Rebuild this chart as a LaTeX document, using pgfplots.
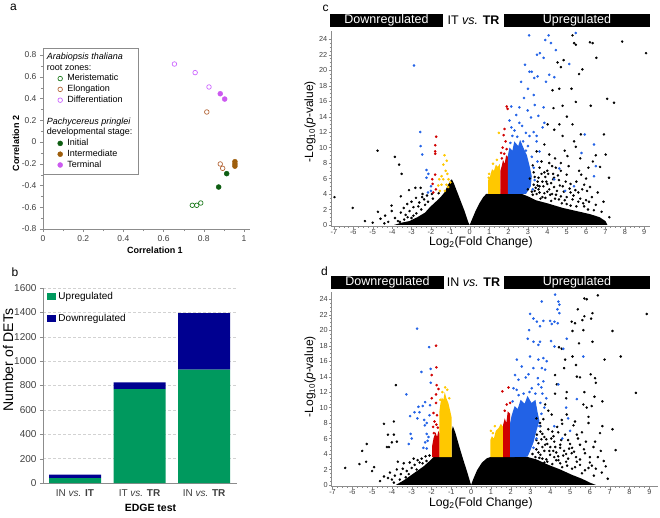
\documentclass[border=0pt]{standalone}
\usepackage{fontspec}
\setmainfont{Liberation Sans}
\usepackage{pgfplots}
\pgfplotsset{compat=1.18}

\definecolor{axgray}{HTML}{8C8C8C}
\definecolor{tickgray}{HTML}{404040}
\definecolor{mgreen}{HTML}{1E7B1E}
\definecolor{igreen}{HTML}{0E5E12}
\definecolor{ebrown}{HTML}{B5683A}
\definecolor{ibrown}{HTML}{9E5E0C}
\definecolor{dviolet}{HTML}{CC66FF}
\definecolor{tviolet}{HTML}{CC5AF0}
\definecolor{upgreen}{HTML}{00995E}
\definecolor{downblue}{HTML}{000090}
\definecolor{vblue}{HTML}{2262E6}
\definecolor{vred}{HTML}{D00000}
\definecolor{vyellow}{HTML}{FFC800}

\pgfplotsset{
  every axis/.append style={
    /pgf/number format/assume math mode=true,
    /pgf/number format/1000 sep={},
    scale only axis, anchor=south west,
    axis lines=left, axis line style={-, axgray},
    tick align=outside, tick style={axgray},
  },
  volcano/.style={
    width=318.7pt, height=195pt,
    ymin=-0.2, ymax=25,
    xtick={-7,-6,...,9}, ytick={0,2,...,24},
    minor x tick num=3, minor y tick num=3,
    major tick length=2.5pt, minor tick length=1.5pt,
    tick label style={font=\fontsize{7.3}{8}\selectfont, text=tickgray, inner sep=1pt},
    xticklabel style={yshift=0.8pt},
  },
  blk/.style={only marks, mark=*, mark size=1.05pt, black},
  dots/.style={only marks, mark=*, mark size=1.1pt, #1, mark options={draw=#1, fill=#1}},
}

\begin{document}
\begin{tikzpicture}
\path[use as bounding box] (0pt,0pt) rectangle (660pt,517pt);

% ---------------- panel a ----------------
\begin{axis}[
  at={(43pt,288pt)}, width=207pt, height=174pt,
  xmin=0, xmax=1.03, ymin=-0.8, ymax=0.8,
  xtick={0,0.2,0.4,0.6,0.8,1},
  ytick={-0.8,-0.6,-0.4,-0.2,0,0.2,0.4,0.6,0.8},
  minor tick num=1,
  major tick length=3pt, minor tick length=2pt,
  tick label style={font=\fontsize{8.5}{10}\selectfont, text=tickgray},
  legend style={at={(axis description cs:0,1.040)}, anchor=north west,
    draw=axgray, fill=white, font=\fontsize{9}{10}\selectfont,
    inner xsep=5pt, inner ysep=3.5pt, row sep=0.3pt, column sep=2.5pt,
    nodes={inner sep=0.6pt, text height=7pt, text depth=2.3pt},
    cells={anchor=west}},
  legend image code/.code={\path[draw=none, fill=none] (0pt,-2pt) rectangle (16pt,2pt);
    \draw[#1] plot coordinates {(12pt,0pt)};},
]
\addplot[only marks, mark=o, mark size=2.3pt, draw=mgreen, line width=0.7pt, forget plot]
  coordinates {(0.743,-0.582) (0.765,-0.582) (0.785,-0.561)};
\addplot[only marks, mark=o, mark size=2.3pt, draw=ebrown, line width=0.7pt, forget plot]
  coordinates {(0.815,0.276) (0.882,-0.202) (0.894,-0.242)};
\addplot[only marks, mark=o, mark size=2.3pt, draw=dviolet, line width=0.7pt, forget plot]
  coordinates {(0.654,0.717) (0.757,0.638) (0.826,0.506)};
\addplot[only marks, mark=*, mark size=2.5pt, draw=igreen, fill=igreen, forget plot]
  coordinates {(0.914,-0.291) (0.874,-0.414)};
\addplot[only marks, mark=*, mark size=2.5pt, draw=ibrown, fill=ibrown, forget plot]
  coordinates {(0.955,-0.181) (0.955,-0.202) (0.955,-0.222)};
\addplot[only marks, mark=*, mark size=2.5pt, draw=tviolet, fill=tviolet, forget plot]
  coordinates {(0.882,0.444) (0.904,0.395)};

\addlegendimage{empty legend}\addlegendentry{\hspace*{-20.5pt}\textit{Arabiopsis thaliana}}
\addlegendimage{empty legend}\addlegendentry{\hspace*{-20.5pt}root zones:}
\addlegendimage{only marks, mark=o, mark size=2.3pt, draw=mgreen, line width=0.7pt}\addlegendentry{Meristematic}
\addlegendimage{only marks, mark=o, mark size=2.3pt, draw=ebrown, line width=0.7pt}\addlegendentry{Elongation}
\addlegendimage{only marks, mark=o, mark size=2.3pt, draw=dviolet, line width=0.7pt}\addlegendentry{Differentiation}
\addlegendimage{empty legend}\addlegendentry{\mbox{}}
\addlegendimage{empty legend}\addlegendentry{\hspace*{-20.5pt}\textit{Pachycereus pringlei}}
\addlegendimage{empty legend}\addlegendentry{\hspace*{-20.5pt}developmental stage:}
\addlegendimage{only marks, mark=*, mark size=2.5pt, draw=igreen, fill=igreen}\addlegendentry{Initial}
\addlegendimage{only marks, mark=*, mark size=2.5pt, draw=ibrown, fill=ibrown}\addlegendentry{Intermediate}
\addlegendimage{only marks, mark=*, mark size=2.5pt, draw=tviolet, fill=tviolet}\addlegendentry{Terminal}
\end{axis}

% ---------------- panel b ----------------
\begin{axis}[
  at={(43pt,34pt)}, width=194pt, height=195pt,
  xmin=-0.496, xmax=2.51, ymin=0, ymax=1600,
  ybar stacked, bar width=52pt,
  xtick={0,1,2},
  xticklabels={IN \textit{vs.} \textbf{IT}, IT \textit{vs.} \textbf{TR}, IN \textit{vs.} \textbf{TR}},
  x tick style={draw=none},
  ytick={0,200,...,1600},
  major tick length=3pt,
  ymajorgrids, major grid style={densely dashed, gray!35},
  tick label style={font=\fontsize{10}{12}\selectfont, text=tickgray},
  legend style={at={(axis description cs:0.005,1.0)}, anchor=north west,
    draw=none, fill=none, font=\fontsize{10}{12}\selectfont, row sep=9pt,
    cells={anchor=west}},
  legend image code/.code={\fill[#1] (0pt,-3.4pt) rectangle (9.3pt,3.4pt);},
]
\addplot[fill=upgreen, draw=none] coordinates {(0,40) (1,770) (2,930)};
\addplot[fill=downblue, draw=none] coordinates {(0,28) (1,55) (2,463)};
\legend{Upregulated, Downregulated}
\end{axis}

% ---------------- panel c ----------------
\begin{axis}[volcano, at={(331pt,290.5pt)}, xmin=-7.15, xmax=9.28]
\addplot[fill=black, draw=none] coordinates {
  (-3.9,0) (-3.5,0.3) (-3.1,0.5) (-2.7,1.0) (-2.3,1.6) (-2.05,2.3) (-1.75,3.0)
  (-1.5,3.6) (-1.3,4.2) (-1.15,5.0) (-1.0,5.7) (-0.92,5.9) (-0.82,5.4) (-0.65,4.3)
  (-0.45,3.0) (-0.25,1.7) (-0.08,0.4) (0,0)} -- cycle;
\addplot[fill=black, draw=none] coordinates {
  (0,0) (0.1,0.6) (0.3,1.8) (0.5,2.8) (0.7,3.6) (0.85,4.0) (2.7,4.0) (3.0,3.7)
  (3.4,3.2) (4.0,2.8) (4.8,2.2) (5.5,1.8) (6.2,1.4) (6.7,1.0) (7.0,0.5) (7.1,0)} -- cycle;
\addplot[blk] coordinates {
  (-6.97,3.6) (-6.03,2.2) (-4.75,9.6) (-3.86,8.8) (-3.64,7.8) (-3.51,6.6) (-3.13,4.5)
  (-2.8,4.8) (-2.53,4.8) (-3.55,3.7) (-4.03,2.5) (-4.73,1.7) (-4.36,1.2) (-4.02,1.8)
  (-3.85,0.9) (-3.55,1.6) (-3.22,2.7) (-3.0,3.0) (-2.77,3.5) (-2.43,4.0) (-3.7,0.5)
  (-3.38,0.7) (-4.6,0.8) (-4.2,0.4) (-3.3,1.3) (-2.9,2.3) (-2.6,2.9) (-2.35,3.3)
  (-2.2,3.8) (-5.0,0.3) (-3.1,1.8) (-2.5,2.0) (-2.75,1.5) (-3.4,2.2) (-2.3,2.6)
  (-1.9,3.4) (-1.6,4.1) (-4.4,0.2) (-5.4,0.5) (-3.0,0.9) (-2.65,2.4) (-2.15,3.0)
  (-2.45,3.6) (-1.95,4.0) (-3.2,1.0) (-2.9,1.2) (-3.6,0.4)
  (5.3,24.5) (5.38,23.5) (5.47,23.3) (6.2,23.6) (6.34,23.5) (7.86,23.7) (9.09,22.2)
  (6.53,21.6) (4.53,21.0) (4.84,21.3) (4.7,20.4) (5.81,20.1) (5.64,19.5) (5.25,17.6)
  (4.62,17.6) (4.27,17.4) (7.09,16.3) (7.44,15.8) (6.24,15.4) (5.47,15.9) (4.79,15.4)
  (4.32,15.1) (5.01,14.0) (4.62,13.0) (5.3,13.0) (4.02,13.0) (4.36,12.3) (6.92,11.7)
  (4.79,11.5) (5.73,11.7) (5.38,10.8) (5.47,10.1) (7.01,9.1) (5.04,8.9) (6.12,7.4)
  (6.72,7.5) (7.18,6.1) (5.64,7.0) (4.7,8.0) (4.44,7.4) (4.1,9.1) (3.85,10.4) (6.15,3.0)
  (3.2,4.3) (3.4,4.8) (3.6,4.2) (3.5,5.6) (3.8,5.0) (3.9,6.2) (4.1,4.6) (4.2,5.4)
  (4.0,7.0) (4.3,6.6) (4.5,4.4) (4.6,5.8) (4.8,5.0) (3.3,6.8) (3.6,7.4) (3.7,8.2)
  (4.4,8.6) (3.45,9.5) (5.0,6.5) (5.2,4.2) (5.5,5.6) (5.8,4.6) (6.0,6.0) (5.3,3.3)
  (6.0,3.2) (6.5,2.6) (4.9,3.2) (3.9,3.5) (4.4,3.4) (3.1,6.0) (3.7,6.6) (4.1,8.0)
  (4.7,7.0) (5.9,2.4) (6.3,3.6) (6.6,4.2) (5.6,3.0) (6.5,9.0) (5.9,5.2) (4.9,9.6)
  (3.3,5.2) (3.0,4.6) (3.45,4.0) (3.75,3.6) (4.15,3.9) (4.6,3.3) (5.0,2.7) (5.5,2.4)
  (6.1,2.0) (6.8,1.7) (7.2,1.0) (3.95,5.6) (4.35,4.9) (4.85,4.3) (5.2,5.3) (3.6,5.0)
  (4.05,6.6) (5.45,4.5) (6.2,4.9) (6.9,3.0) (4.55,6.4) (3.25,7.7) (4.25,7.6) (5.1,7.6)
  (5.75,6.5) (6.35,8.2) (5.7,8.6) (3.35,4.4) (3.55,4.6) (3.85,4.1) (4.0,4.3) (4.25,4.0)
  (4.45,3.9) (4.7,3.7) (5.0,3.6) (5.35,3.8) (5.7,3.4) (3.25,3.9) (3.65,3.4) (4.2,3.1)
  (4.75,2.8) (5.2,2.5) (5.85,2.8) (6.4,1.9) (3.5,5.1) (3.75,5.6) (4.0,5.3) (4.3,5.9)
  (4.65,5.1) (3.35,6.2) (3.85,6.8) (4.35,6.1) (4.95,5.6) (5.15,4.7) (5.6,4.2)
  (6.05,4.4) (3.55,6.1)};
\addplot[fill=vyellow, draw=none] coordinates {
  (0.95,4.0) (0.95,5.8) (1.05,6.3) (1.15,7.2) (1.25,7.0) (1.35,7.8) (1.45,7.5)
  (1.55,7.9) (1.58,4.0)} -- cycle;
\addplot[fill=vred, draw=none] coordinates {
  (1.58,4.0) (1.58,7.0) (1.65,7.6) (1.72,8.4) (1.8,7.9) (1.88,9.0) (1.97,8.8) (1.97,4.0)} -- cycle;
\addplot[fill=vblue, draw=none] coordinates {
  (1.97,4.0) (1.97,9.0) (2.05,10.0) (2.2,9.6) (2.3,10.8) (2.5,10.2) (2.6,11.0)
  (2.8,9.8) (2.95,9.0) (3.1,7.5) (3.2,6.3) (3.15,5.0) (2.9,4.0)} -- cycle;
\addplot[dots=vyellow] coordinates {
  (-1.30,9.0) (-1.18,8.3) (-1.36,7.8) (-1.24,7.0) (-1.57,5.9) (-1.36,5.9) (-1.09,5.9)
  (-1.45,5.2) (-1.2,5.2) (-1.28,4.4) (-1.11,4.9) (-1.54,4.4) (-1.62,5.1) (-1.45,6.3)
  (-1.15,6.6) (-1.0,5.5) (1.5,11.9) (1.0,6.6) (1.4,8.4) (1.2,7.9) (0.98,6.1)};
\addplot[dots=vred] coordinates {
  (-1.73,11.4) (-1.78,10.3) (-1.78,9.5) (-1.78,9.2) (-1.78,6.5) (-1.93,5.9) (-1.91,5.3)
  (-1.74,4.6) (-1.88,4.2) (1.91,15.3) (1.95,15.0) (1.8,12.4) (1.75,11.6) (1.85,10.8)
  (1.7,10.0) (1.62,9.3) (1.9,9.8) (1.66,8.6) (1.78,9.2)};
\addplot[dots=vblue] coordinates {
  (-2.87,20.6) (-2.55,12.0) (-2.53,10.2) (-2.45,9.1) (-2.23,7.1) (-2.13,6.6) (-2.23,6.1)
  (-2.0,5.0) (-2.15,4.2) (-2.0,4.4)
  (3.06,24.5) (3.9,23.9) (4.07,24.5) (4.19,23.5) (5.47,24.8) (4.44,22.6) (3.62,22.2)
  (3.47,22.0) (3.81,21.6) (5.13,20.8) (2.85,20.7) (3.08,19.8) (2.65,18.5) (3.33,19.0)
  (3.93,18.5) (4.36,19.1) (2.56,15.2) (2.14,15.3) (2.99,14.8) (3.81,15.2) (3.54,14.1)
  (3.16,13.9) (2.56,13.2) (2.31,12.2) (3.85,13.2) (3.76,12.6) (2.9,11.9) (3.08,11.5)
  (3.5,19.2) (3.2,19.8) (4.1,19.4) (6.41,10.4) (5.93,11.7) (5.76,9.3) (6.5,7.6)
  (6.41,6.3) (4.92,4.4) (5.38,5.0) (4.36,5.9) (4.62,7.3) (2.7,12.8) (3.3,12.0)
  (3.45,10.8) (2.2,11.5) (3.6,9.5) (3.5,8.2) (3.45,11.5) (2.05,13.5) (2.8,16.4)
  (3.3,16.8) (2.4,14.2) (3.35,15.5) (3.0,17.6) (2.1,10.6) (2.45,11.4) (2.75,10.8)
  (3.0,10.2) (3.2,8.8) (3.3,7.4) (3.35,5.8) (3.25,4.6) (2.9,9.6) (2.15,12.6)};
\end{axis}

% ---------------- panel d ----------------
\begin{axis}[volcano, at={(331.5pt,30.5pt)}, width=326.7pt, xmin=-7.05, xmax=9.45]
\addplot[fill=black, draw=none] coordinates {
  (-3.8,0) (-3.4,0.6) (-2.9,1.5) (-2.4,2.4) (-2.05,3.2) (-1.9,3.6) (-0.98,3.6)
  (-0.98,7.0) (-0.92,7.6) (-0.8,6.8) (-0.6,5.0) (-0.4,3.3) (-0.2,1.7) (-0.05,0.4) (0,0)} -- cycle;
\addplot[fill=black, draw=none] coordinates {
  (0,0) (0.1,0.7) (0.3,1.9) (0.55,2.9) (0.8,3.45) (0.97,3.6) (2.8,3.65) (3.3,3.3)
  (3.9,2.6) (4.5,2.0) (5.1,1.3) (5.6,0.8) (6.0,0.3) (6.3,0)} -- cycle;
\addplot[blk] coordinates {
  (-6.36,2.2) (-5.64,2.7) (-5.5,4.4) (-5.27,5.3) (-5.3,3.0) (-5.0,1.8) (-4.9,2.3)
  (-4.4,7.9) (-4.2,6.5) (-4.25,4.9) (-4.15,4.9) (-4.0,5.5) (-3.9,8.2) (-3.9,6.5)
  (-3.8,12.9) (-3.75,5.6) (-3.7,3.0) (-4.2,0.9) (-4.4,1.1) (-4.0,0.7) (-3.4,2.8)
  (-3.25,1.8) (-3.1,2.9) (-2.85,2.6) (-2.7,3.2) (-3.55,1.4) (-3.75,2.0) (-2.5,3.4)
  (-2.3,3.7) (-4.6,0.5) (-3.9,0.3) (-3.3,1.0) (-3.0,2.2) (-2.6,2.9) (-2.25,3.1)
  (-3.6,0.7) (-4.1,1.6) (-2.1,3.8) (-2.9,3.4) (-3.15,1.4) (-2.75,2.0) (-3.45,2.1)
  (-2.45,2.8) (-3.85,1.2)
  (6.4,24.5) (5.72,24.1) (5.84,24.0) (5.39,22.7) (6.13,22.2) (8.87,22.1) (6.06,21.5)
  (5.62,21.3) (5.72,21.8) (5.08,21.1) (5.25,20.9) (5.12,19.9) (5.67,20.0) (7.14,19.9)
  (6.13,18.5) (5.45,18.3) (4.44,17.8) (4.58,17.6) (5.12,16.6) (5.3,15.5) (4.75,16.2)
  (7.56,16.6) (6.74,16.2) (5.34,14.0) (5.5,13.9) (6.04,14.3) (6.26,13.8) (6.3,13.2)
  (8.32,11.9) (5.72,12.0) (6.23,11.4) (6.63,10.8) (6.09,10.2) (5.84,10.0) (5.67,10.4)
  (4.7,15.1) (4.24,14.2) (4.33,13.0) (4.83,12.0) (4.8,11.2) (4.24,11.8) (5.25,8.2)
  (5.93,8.0) (5.17,7.7) (6.63,7.6) (7.14,7.2) (6.51,6.7) (6.26,5.6) (6.18,4.9)
  (5.93,8.8) (4.83,9.1) (4.58,8.4) (4.07,9.1) (3.74,10.4) (3.48,8.0) (4.16,6.3)
  (4.75,6.5) (5.34,6.5) (5.5,5.2) (5.08,4.1) (5.75,4.1) (4.5,4.8) (3.74,5.2) (3.32,6.5)
  (3.99,3.9) (4.41,3.2) (5.34,3.0) (5.93,2.2)
  (3.1,4.0) (3.3,4.6) (3.5,3.9) (3.4,5.4) (3.7,4.4) (3.8,5.9) (4.0,4.9) (4.2,5.6)
  (3.6,6.6) (3.9,7.2) (4.3,4.2) (4.5,5.2) (4.7,4.4) (4.4,6.8) (4.9,5.8) (5.1,4.8)
  (3.5,7.6) (4.6,7.9) (5.4,6.0) (5.7,4.6) (4.9,3.4) (4.3,3.2) (5.5,2.6) (6.0,2.9)
  (3.3,8.6) (3.9,9.6) (4.8,3.0) (5.8,5.6) (6.4,3.6) (6.8,2.4) (3.8,3.3) (6.6,1.6)
  (6.9,0.8) (7.3,4.5) (3.45,3.5) (3.7,2.9) (4.1,2.7) (4.6,2.3) (5.1,2.1) (5.6,1.5)
  (6.2,1.2) (3.95,4.4) (4.25,4.9) (4.65,3.8) (5.3,3.6) (3.55,5.9) (4.05,6.0) (5.0,5.3)
  (6.0,3.6) (6.55,4.4) (3.65,8.5) (4.35,7.5) (5.6,6.8) (3.25,3.6) (3.6,3.4) (3.85,3.0)
  (4.2,3.6) (4.5,2.8) (4.85,2.5) (5.25,2.3) (5.75,1.9) (6.3,2.1) (3.4,4.2) (3.6,4.9)
  (3.85,5.3) (4.15,4.4) (4.4,3.7) (4.8,4.0) (5.2,4.3) (3.3,5.8) (3.7,6.2) (4.1,6.9)
  (4.55,5.8) (4.95,4.7) (5.5,3.3) (6.1,2.5) (6.7,3.1) (3.5,6.9)};
\addplot[fill=vyellow, draw=none] coordinates {
  (-1.6,3.6) (-1.6,9.5) (-1.55,10.5) (-1.48,11.3) (-1.4,11.0) (-1.33,12.0) (-1.25,11.2)
  (-1.15,10.6) (-1.05,9.5) (-0.98,8.7) (-0.98,3.6)} -- cycle;
\addplot[fill=vred, draw=none] coordinates {
  (-1.97,3.6) (-1.97,5.0) (-1.9,6.0) (-1.8,6.8) (-1.72,6.2) (-1.65,7.0) (-1.6,6.6)
  (-1.6,3.6)} -- cycle;
\addplot[fill=vyellow, draw=none] coordinates {
  (0.97,3.6) (0.97,5.8) (1.05,6.3) (1.15,6.0) (1.25,7.0) (1.4,7.4) (1.5,7.9) (1.62,7.5)
  (1.62,3.6)} -- cycle;
\addplot[fill=vred, draw=none] coordinates {
  (1.62,3.6) (1.62,7.8) (1.7,8.6) (1.78,8.0) (1.85,9.5) (1.97,9.2) (1.97,3.6)} -- cycle;
\addplot[fill=vblue, draw=none] coordinates {
  (1.97,3.6) (1.97,8.0) (2.05,9.0) (2.2,10.2) (2.35,9.8) (2.5,11.0) (2.7,10.5)
  (2.85,11.5) (3.05,10.6) (3.25,11.0) (3.35,9.5) (3.45,8.3) (3.3,7.0) (3.15,5.5)
  (3.0,4.5) (2.85,3.65)} -- cycle;
\addplot[dots=vyellow] coordinates {(-1.31,12.6) (-1.45,12.0) (-1.2,12.3) (-1.1,11.2)
  (-1.55,11.0) (1.0,7.0) (1.2,7.6) (1.1,6.7)};
\addplot[dots=vred] coordinates {
  (-1.77,18.0) (-1.75,15.2) (-1.99,14.2) (-1.74,12.9) (-1.65,12.4) (-1.77,11.7)
  (-1.99,11.2) (-1.77,10.6) (-1.9,9.3) (-1.72,9.0) (-1.85,8.2) (-1.75,7.8) (-1.92,7.5)
  (-1.68,7.4) (-1.88,6.7) (1.58,12.1) (1.89,12.6) (1.97,10.6) (1.8,10.4) (1.7,9.6)};
\addplot[dots=vblue] coordinates {
  (-2.73,20.2) (-2.12,17.8) (-2.04,15.0) (-2.51,14.6) (-2.04,13.2) (-3.27,11.7)
  (-2.32,10.7) (-2.07,10.3) (-2.44,10.2) (-2.66,10.1) (-2.86,9.4) (-3.08,8.9)
  (-2.71,8.6) (-2.37,8.4) (-2.24,8.0) (-2.34,7.7) (-3.05,6.6) (-2.24,6.6) (-2.15,6.2)
  (-3.15,5.3) (-2.32,5.5) (-2.41,4.8) (-2.24,4.7) (-3.0,6.0) (-2.61,9.4) (-2.1,9.0)
  (-2.2,5.7)
  (4.24,24.6) (3.57,23.7) (4.41,23.7) (4.46,23.3) (4.36,22.7) (4.46,22.2) (2.98,22.1)
  (3.15,21.5) (3.32,21.1) (3.65,21.2) (3.99,21.2) (4.21,21.1) (4.38,20.9) (3.48,20.5)
  (2.93,20.0) (4.07,20.8) (2.86,18.9) (3.15,18.5) (3.4,18.1) (3.48,18.5) (4.04,18.6)
  (4.83,18.9) (4.21,17.9) (4.66,17.6) (2.31,16.2) (2.98,16.6) (3.4,16.2) (3.65,16.4)
  (3.82,16.0) (5.67,16.6) (3.15,15.1) (3.57,15.1) (3.74,14.9) (2.56,15.3) (2.22,14.2)
  (2.39,13.6) (2.76,13.9) (2.9,14.3) (3.37,13.8) (3.65,13.4) (3.4,13.0) (2.14,12.5)
  (3.06,12.5) (4.41,13.0) (5.34,11.1) (4.8,10.0) (4.6,6.0) (4.2,7.6) (4.9,8.6)
  (5.0,7.0) (3.6,11.8) (3.7,10.0) (3.55,12.6) (2.1,10.8) (2.4,11.6) (2.65,11.8)
  (2.95,12.0) (3.25,11.8) (3.5,10.6) (3.55,9.2) (3.45,7.6) (3.3,6.0) (3.15,4.8)
  (2.3,12.3) (3.8,11.2)};
\end{axis}

% ---------------- labels ----------------
\node[font=\fontsize{12}{14}\selectfont] at (13.5pt,510pt) {a};
\node[font=\fontsize{12}{14}\selectfont] at (15pt,245pt) {b};
\node[font=\fontsize{12}{14}\selectfont] at (325.5pt,509pt) {c};
\node[font=\fontsize{12}{14}\selectfont] at (324.5pt,246pt) {d};

\node[font=\bfseries\fontsize{9}{11}\selectfont, inner sep=0pt] at (155pt,267pt) {Correlation 1};
\node[font=\bfseries\fontsize{9}{11}\selectfont, rotate=90, inner sep=0pt] at (16pt,373.5pt) {Correlation 2};
\node[font=\bfseries\fontsize{10.5}{12}\selectfont, inner sep=0pt] at (150.5pt,8.7pt) {EDGE test};
\node[font=\fontsize{14}{16}\selectfont, rotate=90, inner sep=0pt] at (8pt,157pt) {Number of DETs};

\node[font=\fontsize{12}{14}\selectfont, rotate=90, inner sep=0pt] at (310pt,395.3pt) {-Log\textsubscript{10}(\textit{p}-value)};
\node[font=\fontsize{12}{14}\selectfont, rotate=90, inner sep=0pt] at (310pt,140.3pt) {-Log\textsubscript{10}(\textit{p}-value)};
\node[font=\fontsize{12.2}{14}\selectfont, inner sep=0pt] at (480.8pt,274.8pt) {Log\textsubscript{2}(Fold Change)};
\node[font=\fontsize{12.2}{14}\selectfont, inner sep=0pt] at (480.8pt,13.8pt) {Log\textsubscript{2}(Fold Change)};

\tikzset{hdr/.style={fill=black, text=white, inner sep=0pt, minimum height=13.3pt,
  font=\fontsize{12.5}{14}\selectfont}}
\node[hdr, minimum width=113pt] at (386.5pt,496.4pt) {Downregulated};
\node[hdr, minimum width=146pt] at (577pt,496.4pt) {Upregulated};
\node[font=\fontsize{12.5}{14}\selectfont, inner sep=0pt] at (473.5pt,496.4pt) {IT \textit{vs.} \textbf{TR}};
\node[hdr, minimum width=113pt] at (387.5pt,234.6pt) {Downregulated};
\node[hdr, minimum width=146pt] at (577pt,234.6pt) {Upregulated};
\node[font=\fontsize{12.5}{14}\selectfont, inner sep=0pt] at (473.5pt,234.6pt) {IN \textit{vs.} \textbf{TR}};
\end{tikzpicture}
\end{document}
